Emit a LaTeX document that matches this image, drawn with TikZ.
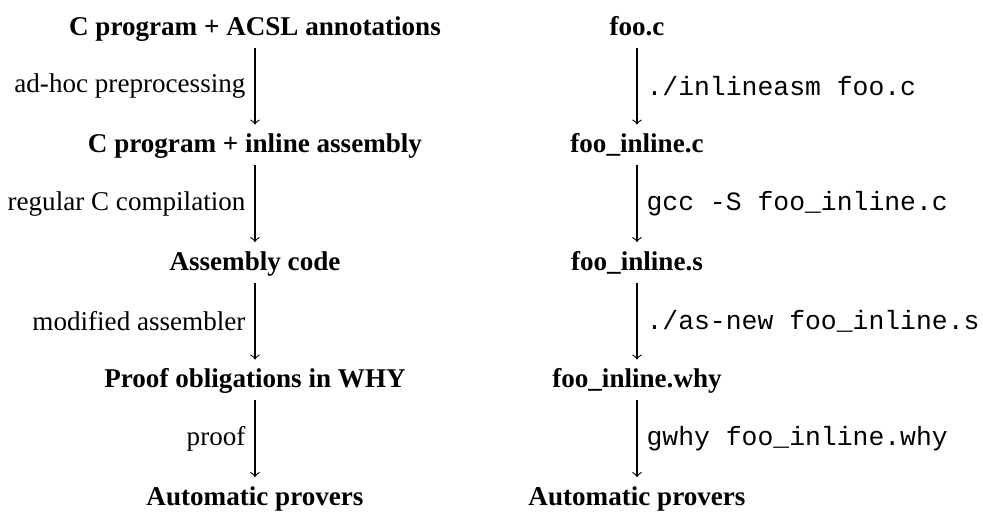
\documentclass[tikz,border=0pt]{standalone}
\usepackage{fontspec}
\setmainfont{Liberation Serif}
\setmonofont{Liberation Mono}
\usepackage{tikz}
\usetikzlibrary{arrows}

\begin{document}
\begin{tikzpicture}
                \tikzset{x={(0.369pt, 0pt)}, y={(0pt, -0.369pt)}}
                \tikzset{stage/.style={font=\bfseries, anchor=base, text height=0.68em, text depth=0.12em},
                         cmd/.style={font=\ttfamily\fontsize{9.75pt}{12pt}\selectfont}}
                \useasboundingbox (0, 0) rectangle (983, 511);
                % how it is done
                \node[stage] (src) at (255,  35.0) {C program + ACSL annotations};
                \node[stage] (inl) at (255, 152.5) {C program + inline assembly};
                \node[stage] (asm) at (255, 270.0) {Assembly code};
                \node[stage] (po)  at (255, 387.5) {Proof obligations in WHY};
                \node[stage] (prv) at (255, 505.0) {Automatic provers};
                \draw[->] (src) -- (inl) node[midway, left] {ad-hoc preprocessing};
                \draw[->] (inl) -- (asm) node[midway, left] {regular C compilation};
                \draw[->] (asm) -- (po)  node[midway, left] {modified assembler};
                \draw[->] (po)  -- (prv) node[midway, left] {proof};
                % what is typed
                \node[stage] (fooc)   at (637,  35.0) {foo.c};
                \node[stage] (fooinc) at (637, 152.5) {foo\_inline.c};
                \node[stage] (fooins) at (637, 270.0) {foo\_inline.s};
                \node[stage] (foowhy) at (637, 387.5) {foo\_inline.why};
                \node[stage] (fooprv) at (637, 505.0) {Automatic provers};
                \draw[->] (fooc)   -- (fooinc) node[midway, right, cmd] {./inlineasm foo.c};
                \draw[->] (fooinc) -- (fooins) node[midway, right, cmd] {gcc -S foo\_inline.c};
                \draw[->] (fooins) -- (foowhy) node[midway, right, cmd] {./as-new foo\_inline.s};
                \draw[->] (foowhy) -- (fooprv) node[midway, right, cmd] {gwhy foo\_inline.why};
            \end{tikzpicture}
\end{document}
